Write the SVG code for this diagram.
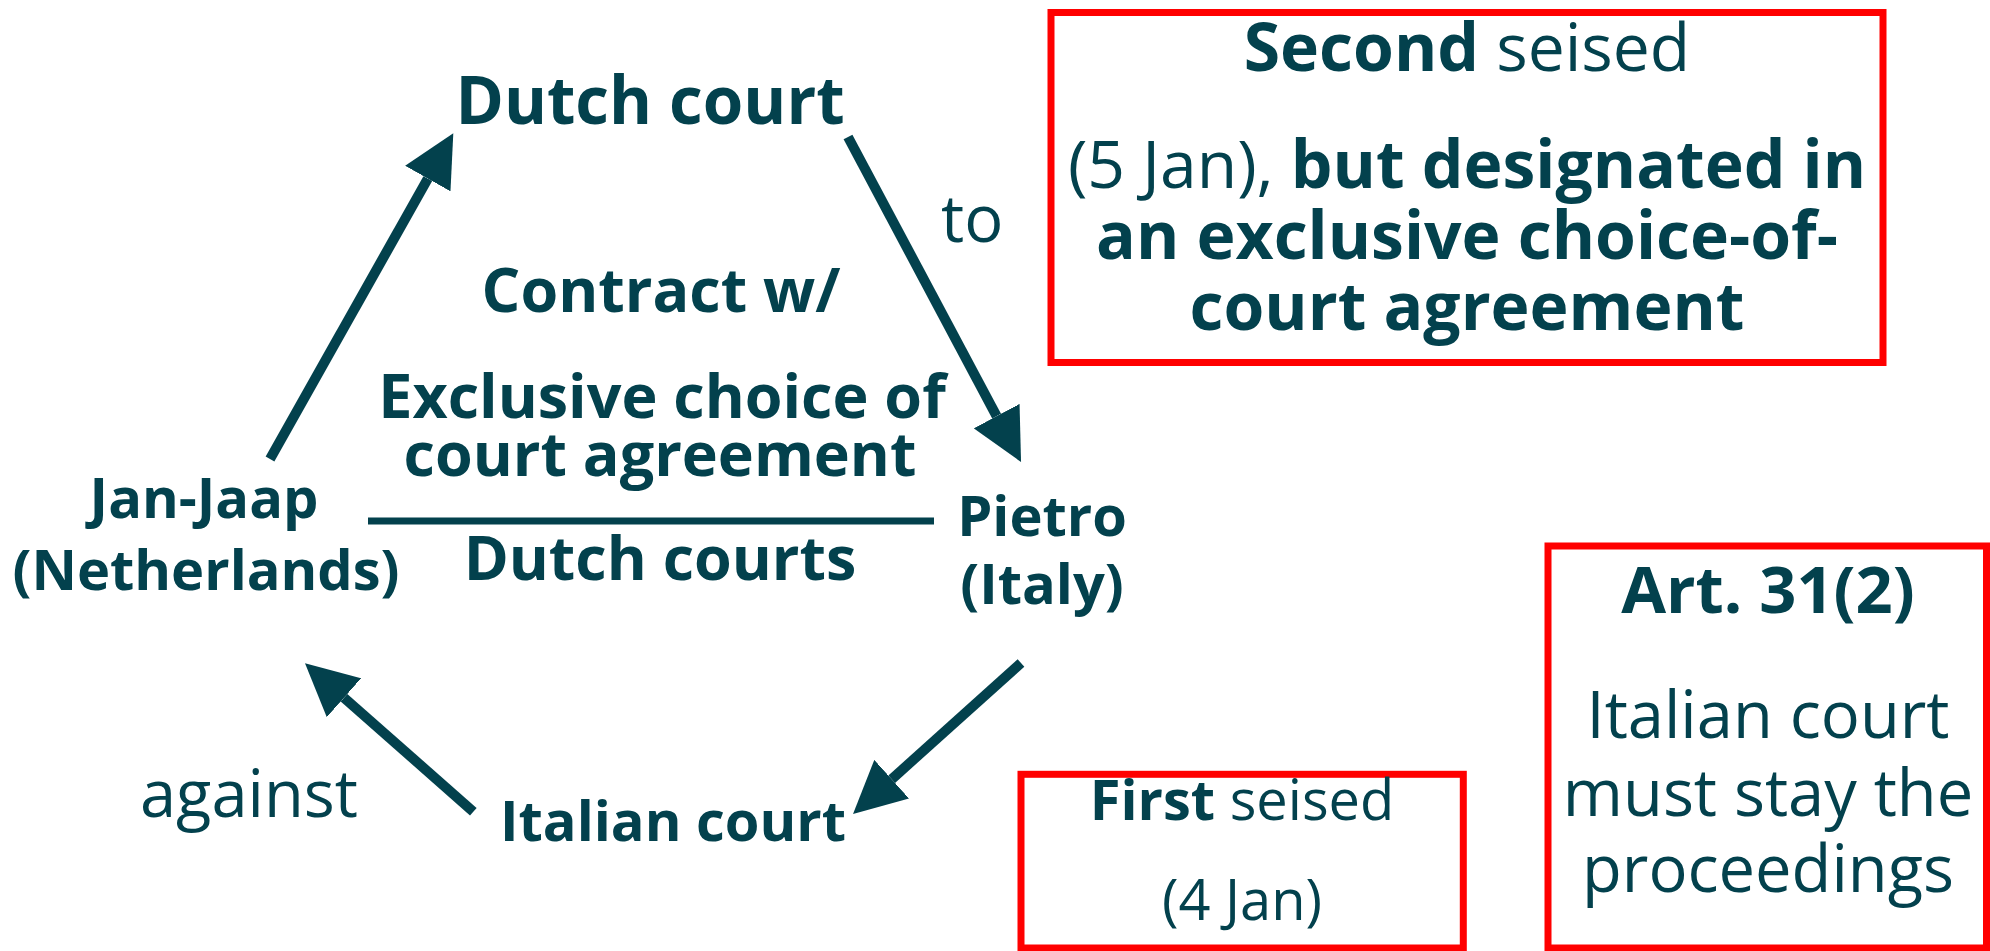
<svg xmlns="http://www.w3.org/2000/svg" width="1990" height="951" viewBox="0 0 1990 951">
  <style>
    text { font-family: "Open Sans", "Noto Sans", "Liberation Sans", sans-serif; fill: #03414d; }
    .b { font-weight: 700; }
    .r { font-weight: 400; }
    .c { text-anchor: middle; }
    .arrow { stroke: #03414d; stroke-width: 10; fill: none; marker-end: url(#head); }
    .box { fill: none; stroke: #ff0000; stroke-width: 7; }
  </style>
  <defs>
    <marker id="head" markerUnits="userSpaceOnUse" markerWidth="52" markerHeight="52" viewBox="0 0 52 52" refX="0" refY="26" orient="auto">
      <path d="M0,0 L52,26 L0,52 Z" fill="#03414d"/>
    </marker>
  </defs>
  <rect width="1990" height="951" fill="#ffffff"/>

  <!-- connectors -->
  <g id="connectors">
    <line class="arrow" x1="270" y1="459" x2="427.8" y2="178.6"/>
    <line class="arrow" x1="848" y1="137" x2="996.6" y2="416.1"/>
    <line class="arrow" x1="1021" y1="663" x2="891.7" y2="779.2"/>
    <line class="arrow" x1="473.3" y1="811.7" x2="344" y2="697.7"/>
    <line x1="368" y1="521" x2="934" y2="521" stroke="#03414d" stroke-width="7"/>
  </g>

  <!-- edge labels -->
  <g id="labels">
    <text class="r" x="941" y="242" font-size="65">to</text>
    <text class="r" x="140" y="817" font-size="65">against</text>
    <text class="b c" x="661" y="312" font-size="61">Contract w/</text>
    <text class="b c" x="662" y="418" font-size="61">Exclusive choice of</text>
    <text class="b c" x="660" y="476" font-size="61">court agreement</text>
    <text class="b c" x="660" y="580" font-size="61">Dutch courts</text>
  </g>

  <g id="dutch-court">
    <text class="b c" x="650" y="124" font-size="65.5">Dutch court</text>
  </g>

  <g id="jan-jaap">
    <text class="b c" x="204" y="518" font-size="56">Jan-Jaap</text>
    <text class="b c" x="206" y="590" font-size="56">(Netherlands)</text>
  </g>

  <g id="pietro">
    <text class="b c" x="1042" y="536" font-size="56">Pietro</text>
    <text class="b c" x="1042" y="604" font-size="56">(Italy)</text>
  </g>

  <g id="italian-court">
    <text class="b c" x="673" y="841" font-size="56">Italian court</text>
  </g>

  <g id="second-seised">
    <rect class="box" x="1051" y="12.5" width="832" height="350"/>
    <text class="c" x="1467" y="71" font-size="66"><tspan class="b">Second</tspan><tspan class="r"> seised</tspan></text>
    <text class="c" x="1467" y="188" font-size="66"><tspan class="r">(5 Jan), </tspan><tspan class="b">but designated in</tspan></text>
    <text class="b c" x="1467" y="259" font-size="66">an exclusive choice-of-</text>
    <text class="b c" x="1467" y="330" font-size="66">court agreement</text>
  </g>

  <g id="first-seised">
    <rect class="box" x="1021" y="774.3" width="442.3" height="173.7"/>
    <text class="c" x="1242" y="820" font-size="56"><tspan class="b">First</tspan><tspan class="r"> seised</tspan></text>
    <text class="r c" x="1242" y="920" font-size="56">(4 Jan)</text>
  </g>

  <g id="art-31-2">
    <rect class="box" x="1548" y="546" width="438.5" height="402"/>
    <text class="b c" x="1768" y="613" font-size="65">Art. 31(2)</text>
    <text class="r c" x="1768" y="738" font-size="65">Italian court</text>
    <text class="r c" x="1768" y="816" font-size="65">must stay the</text>
    <text class="r c" x="1768" y="892" font-size="65">proceedings</text>
  </g>
</svg>
